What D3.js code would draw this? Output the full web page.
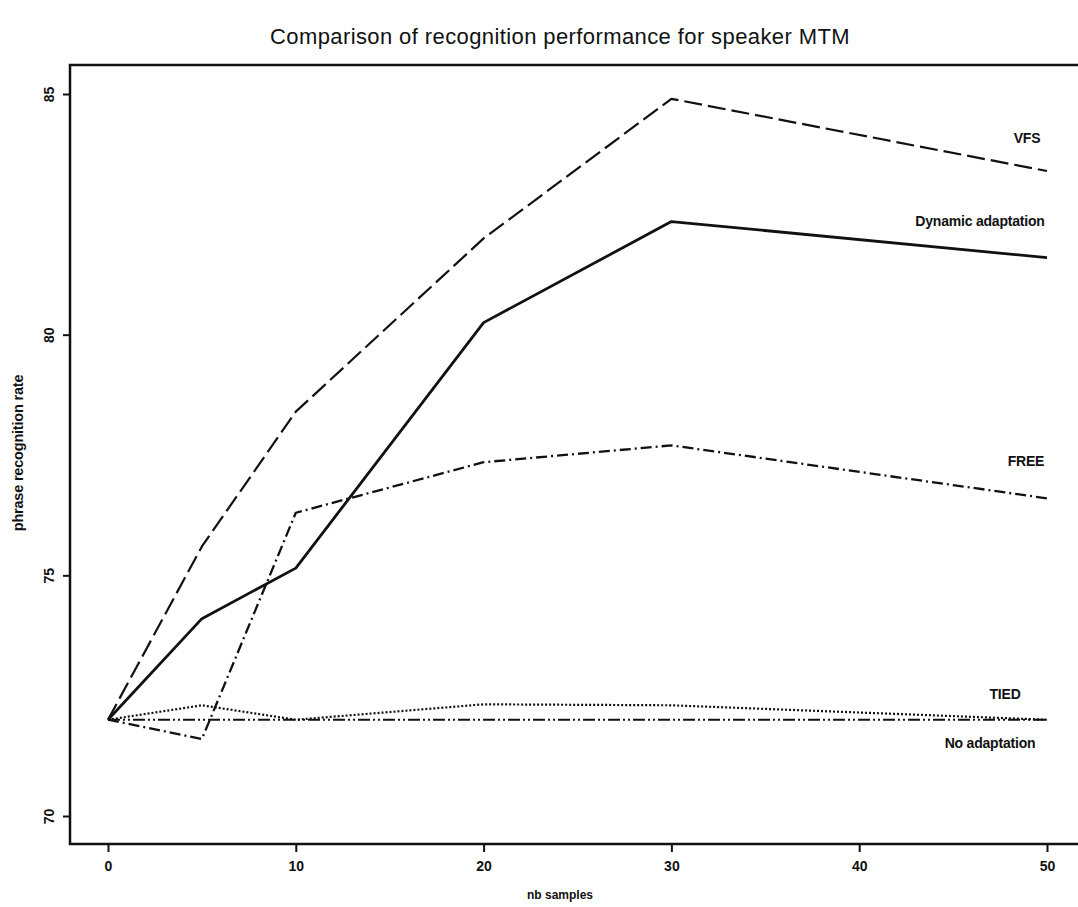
<!DOCTYPE html>
<html>
<head>
<meta charset="utf-8">
<script src="https://cdn.jsdelivr.net/npm/d3@7"></script>
<style>
body { margin: 0; background: white; }
text { font-family: "Liberation Sans", Arial, sans-serif; fill: #111; }
</style>
</head>
<body>
<div id="chart"></div>
<script>
//svg dimensions
var xSize = 1078;
var ySize = 907;

//data
var samples = [0, 5, 10, 20, 30, 50];
var vfs = [72.0, 75.6, 78.4, 82.0, 84.9, 83.4];
var dynamic = [72.0, 74.1, 75.15, 80.25, 82.35, 81.6];
var free = [72.0, 71.6, 76.3, 77.35, 77.7, 76.6];
var tied = [72.0, 72.3, 72.0, 72.32, 72.3, 72.0];
var noAdapt = [72.0, 72.0, 72.0, 72.0, 72.0, 72.0];
var xTicks = [0, 10, 20, 30, 40, 50];
var yTicks = [70, 75, 80, 85];

var series = [
	{name: "VFS", values: vfs, dash: "18,6", width: 2.2, lx: 1027, ly: 143},
	{name: "Dynamic adaptation", values: dynamic, dash: null, width: 2.8, lx: 980, ly: 226},
	{name: "FREE", values: free, dash: "11,4,2,4", width: 2.3, lx: 1026, ly: 466},
	{name: "TIED", values: tied, dash: "2,2", width: 2.2, lx: 1005, ly: 699},
	{name: "No adaptation", values: noAdapt, dash: "12,3,2,3,2,3", width: 2.2, lx: 990, ly: 748}
];

var div = d3.select("#chart");
var svg = div.append("svg")
	.attr("width", xSize)
	.attr("height", ySize);

var x = d3.scaleLinear().domain([0, 50]).range([108, 1047]);
var y = d3.scaleLinear().domain([70, 85]).range([816, 94]);

//frame edges ("top" is taken by window, so use other names)
var frameL = 70, frameT = 65, frameB = 844, frameR = 1082;

//title
svg.append("text")
	.attr("x", 560)
	.attr("y", 44)
	.attr("text-anchor", "middle")
	.style("font-size", "22px")
	.style("letter-spacing", "0.4px")
	.text("Comparison of recognition performance for speaker MTM");

//frame (right side falls outside the picture)
svg.append("rect")
	.attr("x", frameL)
	.attr("y", frameT)
	.attr("width", frameR - frameL)
	.attr("height", frameB - frameT)
	.attr("fill", "none")
	.attr("stroke", "#111")
	.attr("stroke-width", 2.5);

//x axis
var xAxis = svg.append("g")
	.attr("transform", "translate(0," + frameB + ")")
	.call(d3.axisBottom(x).tickValues(xTicks).tickSize(8).tickPadding(9).tickFormat(d3.format("d")));
xAxis.select(".domain").remove();
xAxis.selectAll("line").attr("stroke", "#111").attr("stroke-width", 2);
xAxis.selectAll("text")
	.style("font-size", "14px")
	.style("font-weight", "bold")
	.attr("fill", "#111");

//y axis, labels turned on their side
var yAxis = svg.append("g")
	.attr("transform", "translate(" + frameL + ",0)")
	.call(d3.axisLeft(y).tickValues(yTicks).tickSize(7).tickFormat(d3.format("d")));
yAxis.select(".domain").remove();
yAxis.selectAll("line").attr("stroke", "#111").attr("stroke-width", 2);
yAxis.selectAll("text")
	.attr("x", null)
	.attr("dy", null)
	.attr("transform", "translate(-21,0) rotate(-90)")
	.attr("text-anchor", "middle")
	.attr("dominant-baseline", "central")
	.style("font-size", "14px")
	.style("font-weight", "bold")
	.attr("fill", "#111");

//axis titles
svg.append("text")
	.attr("x", 560)
	.attr("y", 899)
	.attr("text-anchor", "middle")
	.style("font-size", "12px")
	.style("font-weight", "bold")
	.text("nb samples");

svg.append("text")
	.attr("transform", "translate(23,453) rotate(-90)")
	.attr("text-anchor", "middle")
	.style("font-size", "14.5px")
	.style("font-weight", "bold")
	.style("letter-spacing", "-0.2px")
	.text("phrase recognition rate");

//draw each series as a line
var line = d3.line()
	.x(function(d, i){ return x(samples[i]); })
	.y(function(d){ return y(d); });

for (var s = 0; s < series.length; s++){
	var ser = series[s];
	svg.append("path")
		.datum(ser.values)
		.attr("d", line)
		.attr("fill", "none")
		.attr("stroke", "#111")
		.attr("stroke-width", ser.width)
		.attr("stroke-dasharray", ser.dash)
		.attr("stroke-linejoin", "round");

	svg.append("text")
		.attr("x", ser.lx)
		.attr("y", ser.ly)
		.attr("text-anchor", "middle")
		.style("font-size", "14px")
		.style("font-weight", "bold")
		.style("letter-spacing", "-0.2px")
		.text(ser.name);
}
</script>
</body>
</html>
